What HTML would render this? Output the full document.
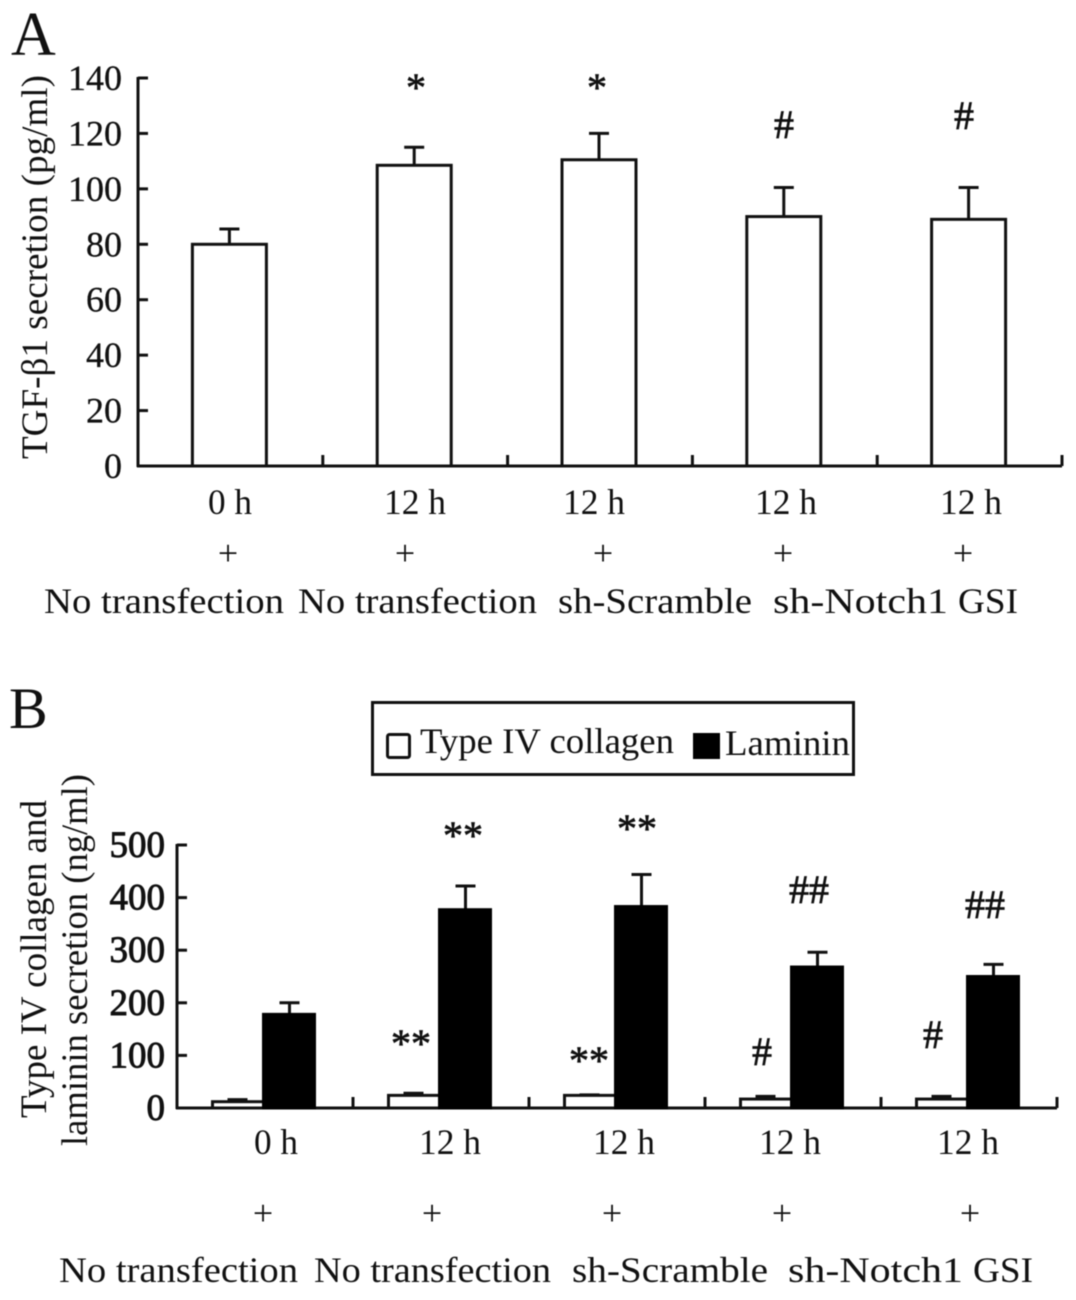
<!DOCTYPE html>
<html lang="en">
<head>
<meta charset="utf-8">
<title>TGF-β1, type IV collagen and laminin secretion</title>
<style>
html,body{margin:0;padding:0;background:#fff;width:1076px;height:1300px;overflow:hidden}
svg{display:block;filter:blur(0.4px)}
text{font-family:"Liberation Serif","DejaVu Serif",serif;fill:#111}
.lab{font-size:36px}
.tick{font-size:36px;text-anchor:end;stroke:#111;stroke-width:.3px}
.tick-b{font-size:37px;text-anchor:end;stroke:#111;stroke-width:.9px}
.ann{font-size:40px;text-anchor:middle;stroke:#111;stroke-width:.7px}
</style>
</head>
<body>
<svg id="figure" width="1076" height="1300" viewBox="0 0 1076 1300" xmlns="http://www.w3.org/2000/svg">
  <rect width="1076" height="1300" fill="#fff"/>
  <text x="11" y="55" font-size="62">A</text>
  <text x="9" y="728" font-size="58">B</text>

  <text transform="translate(47,459) rotate(-90)" font-size="37" textLength="384" lengthAdjust="spacingAndGlyphs">TGF-β1 secretion (pg/ml)</text>
  <text transform="translate(46,1118) rotate(-90)" font-size="37" textLength="318" lengthAdjust="spacingAndGlyphs">Type IV collagen and</text>
  <text transform="translate(87,1146) rotate(-90)" font-size="37" textLength="372" lengthAdjust="spacingAndGlyphs">laminin secretion (ng/ml)</text>

  <g id="chart-a"></g>
  <g id="chart-b"></g>

  <g>
    <text class="ann" x="416" y="101">*</text>
    <text class="ann" x="597" y="101">*</text>
    <text class="ann" x="784" y="138">#</text>
    <text class="ann" x="964" y="129">#</text>
  </g>
  <g>
    <text class="ann" x="463" y="849">**</text>
    <text class="ann" x="637" y="842">**</text>
    <text class="ann" x="809" y="903">##</text>
    <text class="ann" x="985" y="918">##</text>
    <text class="ann" x="411" y="1057">**</text>
    <text class="ann" x="589" y="1074">**</text>
    <text class="ann" x="762" y="1065">#</text>
    <text class="ann" x="933" y="1048">#</text>
  </g>

  <g>
    <text class="lab" x="208" y="514" textLength="44" lengthAdjust="spacingAndGlyphs">0 h</text>
    <text class="lab" x="384" y="514" textLength="62" lengthAdjust="spacingAndGlyphs">12 h</text>
    <text class="lab" x="563" y="514" textLength="62" lengthAdjust="spacingAndGlyphs">12 h</text>
    <text class="lab" x="755" y="514" textLength="62" lengthAdjust="spacingAndGlyphs">12 h</text>
    <text class="lab" x="940" y="514" textLength="62" lengthAdjust="spacingAndGlyphs">12 h</text>
    <text class="lab" x="228" y="565" text-anchor="middle">+</text>
    <text class="lab" x="405" y="565" text-anchor="middle">+</text>
    <text class="lab" x="603" y="565" text-anchor="middle">+</text>
    <text class="lab" x="783" y="565" text-anchor="middle">+</text>
    <text class="lab" x="963" y="565" text-anchor="middle">+</text>
    <text class="lab" x="44" y="613" textLength="240" lengthAdjust="spacingAndGlyphs">No transfection</text>
    <text class="lab" x="298" y="613" textLength="239" lengthAdjust="spacingAndGlyphs">No transfection</text>
    <text class="lab" x="558" y="613" textLength="194" lengthAdjust="spacingAndGlyphs">sh-Scramble</text>
    <text class="lab" x="773" y="613" textLength="175" lengthAdjust="spacingAndGlyphs">sh-Notch1</text>
    <text class="lab" x="958" y="613" textLength="60" lengthAdjust="spacingAndGlyphs">GSI</text>
  </g>

  <g>
    <rect x="372.5" y="702.5" width="481" height="72" fill="#fff" stroke="#111" stroke-width="3"/>
    <rect x="387.5" y="734.5" width="22" height="23" rx="2" fill="#fff" stroke="#111" stroke-width="3"/>
    <text class="lab" x="420" y="753" textLength="254" lengthAdjust="spacingAndGlyphs">Type IV collagen</text>
    <rect x="693" y="733" width="27" height="26" fill="#000"/>
    <text class="lab" x="725" y="755" textLength="125" lengthAdjust="spacingAndGlyphs">Laminin</text>
  </g>

  <g>
    <text class="lab" x="254" y="1154" textLength="44" lengthAdjust="spacingAndGlyphs">0 h</text>
    <text class="lab" x="419" y="1154" textLength="62" lengthAdjust="spacingAndGlyphs">12 h</text>
    <text class="lab" x="593" y="1154" textLength="62" lengthAdjust="spacingAndGlyphs">12 h</text>
    <text class="lab" x="759" y="1154" textLength="62" lengthAdjust="spacingAndGlyphs">12 h</text>
    <text class="lab" x="937" y="1154" textLength="62" lengthAdjust="spacingAndGlyphs">12 h</text>
    <text class="lab" x="263" y="1225" text-anchor="middle">+</text>
    <text class="lab" x="432" y="1225" text-anchor="middle">+</text>
    <text class="lab" x="612" y="1225" text-anchor="middle">+</text>
    <text class="lab" x="782" y="1225" text-anchor="middle">+</text>
    <text class="lab" x="970" y="1225" text-anchor="middle">+</text>
    <text class="lab" x="59" y="1282" textLength="239" lengthAdjust="spacingAndGlyphs">No transfection</text>
    <text class="lab" x="314" y="1282" textLength="237" lengthAdjust="spacingAndGlyphs">No transfection</text>
    <text class="lab" x="572" y="1282" textLength="196" lengthAdjust="spacingAndGlyphs">sh-Scramble</text>
    <text class="lab" x="788" y="1282" textLength="175" lengthAdjust="spacingAndGlyphs">sh-Notch1</text>
    <text class="lab" x="973" y="1282" textLength="60" lengthAdjust="spacingAndGlyphs">GSI</text>
  </g>
</svg>
<script>
var groupsA = ['0 h', '12 h', '12 h sh-Scramble', '12 h sh-Notch1', '12 h GSI'];
var tgfValues = [80, 108.5, 110.5, 90, 89];
var tgfErrors = [5.5, 6.5, 9.5, 10.5, 11.5];
var ticksA = [0, 20, 40, 60, 80, 100, 120, 140];

var groupsB = ['0 h', '12 h', '12 h sh-Scramble', '12 h sh-Notch1', '12 h GSI'];
var collagenValues = [12, 24, 24, 17, 17];
var collagenErrors = [4, 4, 1, 5, 5];
var lamininValues = [178, 377, 383, 268, 250];
var lamininErrors = [22, 45, 61, 28, 23];
var ticksB = [0, 100, 200, 300, 400, 500];

var NS = 'http://www.w3.org/2000/svg';
var INK = '#111';

function line(parent, x1, y1, x2, y2, w, name) {
  var el = document.createElementNS(NS, 'line');
  el.setAttribute('x1', x1);
  el.setAttribute('y1', y1);
  el.setAttribute('x2', x2);
  el.setAttribute('y2', y2);
  el.setAttribute('stroke', INK);
  el.setAttribute('stroke-width', w);
  
  
  parent.appendChild(el);
}

function bar(parent, x, yTop, yBase, width, fill, stroke, name) {
  var el = document.createElementNS(NS, 'rect');
  el.setAttribute('x', x);
  el.setAttribute('y', yTop);
  el.setAttribute('width', width);
  el.setAttribute('height', Math.max(0, yBase - yTop));
  el.setAttribute('fill', fill);
  el.setAttribute('stroke', stroke);
  el.setAttribute('stroke-width', 3);
  
  
  parent.appendChild(el);
}

function tickLabel(parent, x, y, label, cls, name) {
  var el = document.createElementNS(NS, 'text');
  el.setAttribute('x', x);
  el.setAttribute('y', y);
  el.setAttribute('class', cls);
  
  
  el.textContent = label;
  parent.appendChild(el);
}

function axes(parent, prefix, left, right, top, base, count, ticks, yScale, labelX, cls) {
  line(parent, left, top - 1, left, base + 1, 3, prefix + '-y-axis');
  line(parent, left - 1, base, right, base, 3, prefix + '-x-axis');
  ticks.forEach(function (t) {
    var y = yScale(t);
    line(parent, left, y, left + 10, y, 3, prefix + '-y-tick-' + t);
    tickLabel(parent, labelX, y + 12, String(t), cls, prefix + '-y-tick-label-' + t);
  });
  var band = (right - left) / count;
  for (var i = 1; i <= count; i++) {
    line(parent, left + band * i, base - 11, left + band * i, base, 3, prefix + '-x-tick-' + i);
  }
}

function errorBar(parent, cx, yFrom, yTo, capW, name) {
  line(parent, cx, yFrom, cx, yTo, 3, name + '-stem');
  line(parent, cx - capW / 2, yTo, cx + capW / 2, yTo, 3, name + '-cap');
}

/* Panel A */
(function () {
  var g = document.getElementById('chart-a');
  var left = 138, right = 1062, top = 78, base = 466, maxV = 140;
  function y(v) { return base - v * (base - top) / maxV; }
  var band = (right - left) / groupsA.length;
  axes(g, 'a', left, right, top, base, groupsA.length, ticksA, y, 122, 'tick');
  tgfValues.forEach(function (v, i) {
    var cx = left + band * (i + 0.5) - 1;
    errorBar(g, cx, y(v), y(v + tgfErrors[i]), 20, 'a-error-' + (i + 1));
    bar(g, cx - 37, y(v), base, 74, '#fff', INK, 'a-bar-' + (i + 1));
  });
})();

/* Panel B */
(function () {
  var g = document.getElementById('chart-b');
  var left = 177, right = 1057, top = 845, base = 1108, maxV = 500;
  function y(v) { return base - v * (base - top) / maxV; }
  var band = (right - left) / groupsB.length;
  axes(g, 'b', left, right, top, base, groupsB.length, ticksB, y, 165, 'tick-b');
  groupsB.forEach(function (name, i) {
    var cx = left + band * (i + 0.5) - 1.5;
    var c = collagenValues[i], l = lamininValues[i];
    errorBar(g, cx - 26, y(c), y(c + collagenErrors[i]), 20, 'b-collagen-error-' + (i + 1));
    errorBar(g, cx + 26, y(l), y(l + lamininErrors[i]), 20, 'b-laminin-error-' + (i + 1));
    bar(g, cx - 51, y(c), base, 51, '#fff', INK, 'b-collagen-bar-' + (i + 1));
    bar(g, cx, y(l), base, 51, '#000', '#000', 'b-laminin-bar-' + (i + 1));
  });
})();
</script>
</body>
</html>
